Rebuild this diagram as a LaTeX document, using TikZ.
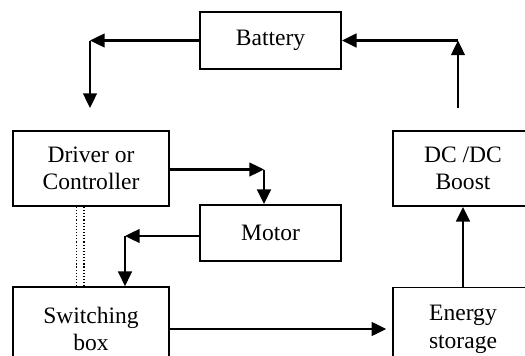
\documentclass[tikz,border=0pt]{standalone}
\usepackage{fontspec}
\setmainfont{Liberation Serif}
\usetikzlibrary{arrows.meta}
\begin{document}
\begin{tikzpicture}[x=0.51pt,y=-0.51pt,
	box/.style={draw,line width=0.85pt,inner sep=0pt,align=center,font=\fontsize{12}{14}\selectfont},
	link/.style={line width=1.2pt,-{Triangle[length=7.5pt,width=7pt]}}]
	\useasboundingbox (0,0) rectangle (525,356);
	\clip (0,0) rectangle (525,356);
	\node[box,minimum width=72pt,minimum height=29pt](bat) at (270.5,40.5) {Battery};
	\node[box,minimum width=79.6pt,minimum height=38.3pt](drv) at (91,168.5) {Driver or\\Controller};
	\node[box,minimum width=72pt,minimum height=28.6pt](mot) at (270.5,233) {Motor};
	\node[box,minimum width=71.4pt,minimum height=38.3pt](dc) at (463,168.5) {DC /DC\\Boost};
	\node[box,minimum width=79.6pt,minimum height=42.8pt](sw) at (91,329) {Switching\\box};
	\node[box,minimum width=71.4pt,minimum height=42.8pt](en) at (463,329.5) {Energy\\storage};
	\coordinate (c1) at (90,40.5);
	\coordinate (e1) at (90,108);
	\coordinate (c2) at (264,169.5);
	\coordinate (c3) at (125,236);
	\coordinate (s4) at (458,108);
	\coordinate (c4) at (458,40.5);
	\draw[link](bat.west)--(c1);
	\draw[link](c1)--(e1);
	\draw[link](drv.east |- c2)--(c2);
	\draw[link](c2)--(c2 |- mot.north);
	\draw[link](mot.west |- c3)--(c3);
	\draw[link](c3)--(c3 |- sw.north);
	\draw[link,shorten >=3pt](sw.east)--(sw.east -| en.west);
	\draw[link](en.north)--(dc.south);
	\draw[link](s4)--(c4);
	\draw[link](c4)--(bat.east);
	\draw[densely dotted,line width=0.6pt]([xshift=-7.6pt]drv.south)--([xshift=-7.6pt]sw.north);
	\draw[densely dotted,line width=0.6pt]([xshift=-3.6pt]drv.south)--([xshift=-3.6pt]sw.north);
\end{tikzpicture}
\end{document}
